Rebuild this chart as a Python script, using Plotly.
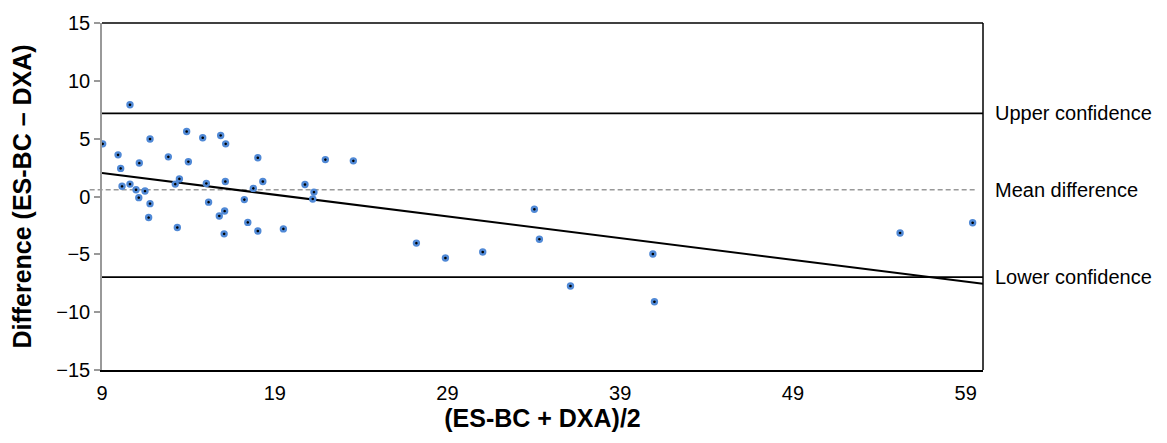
import plotly.graph_objects as go

# Data (Bland-Altman plot)
mean_vals = [9.04, 9.93, 10.08, 11.78, 11.16, 10.16, 10.62, 10.97, 11.13, 11.49,
             11.78, 11.70, 12.84, 13.90, 14.83, 15.87, 16.16, 14.00, 13.48, 13.24,
             15.04, 16.14, 15.17, 13.36, 16.10, 15.79, 16.07, 18.02, 18.31, 17.76,
             17.24, 17.44, 18.02, 19.50, 21.93, 23.55, 20.75, 21.27, 21.20, 10.62,
             27.20, 28.88, 31.04, 34.03, 34.32, 36.12, 40.89, 40.98, 55.20, 59.40]
diff_vals = [4.55, 3.60, 2.43, 4.97, 2.89, 0.88, 1.07, 0.58, -0.10, 0.47,
             -0.62, -1.82, 3.43, 5.62, 5.08, 5.28, 4.55, 3.01, 1.52, 1.07,
             1.13, 1.30, -0.49, -2.68, -1.26, -1.68, -3.23, 3.35, 1.30, 0.70,
             -0.27, -2.24, -2.98, -2.80, 3.19, 3.08, 1.04, 0.38, -0.21, 7.93,
             -4.03, -5.32, -4.80, -1.10, -3.69, -7.74, -4.97, -9.10, -3.15, -2.27]

mean_difference = 0.58
upper_confidence = 7.18
lower_confidence = -6.97
reg_x = [9, 60]
reg_y = [2.03, -7.54]

x_range = [9, 60]
y_range = [-15, 15]
x_ticks = [9, 19, 29, 39, 49, 59]
y_ticks = [-15, -10, -5, 0, 5, 10, 15]

FONT = "Liberation Sans, Arial, sans-serif"

fig = go.Figure()

# regression line
fig.add_trace(go.Scatter(x=reg_x, y=reg_y, mode="lines",
                         line=dict(color="black", width=2), hoverinfo="skip",
                         showlegend=False))

# points
fig.add_trace(go.Scatter(x=mean_vals, y=diff_vals, mode="markers",
                         marker=dict(size=5, color="black",
                                     line=dict(color="#5089d6", width=2.4)),
                         showlegend=False))

# limit lines
for yv, dash, col, w in [(upper_confidence, "solid", "black", 1.8),
                         (lower_confidence, "solid", "black", 1.8),
                         (mean_difference, "5px,3px", "#999999", 1.5)]:
    is_dash = dash != "solid"
    fig.add_shape(type="line", xref="paper", yref="y",
                  x0=(-0.014 if is_dash else 0), x1=(0.993 if is_dash else 1),
                  y0=yv, y1=yv, line=dict(color=col, width=w, dash=dash),
                  layer="below")

# box top and right
fig.add_shape(type="line", xref="paper", yref="paper", x0=0, x1=1, y0=1, y1=1,
              line=dict(color="black", width=1.5))
fig.add_shape(type="line", xref="paper", yref="paper", x0=1, x1=1, y0=0, y1=1,
              line=dict(color="black", width=1.5))

for label, yv in [("Upper confidence", upper_confidence),
                  ("Mean difference", mean_difference),
                  ("Lower confidence", lower_confidence)]:
    fig.add_annotation(x=1, xref="paper", y=yv, yref="y", text=label,
                       showarrow=False, xanchor="left", xshift=10,
                       font=dict(family=FONT, size=20, color="black"))

fig.update_layout(
    width=1167, height=443,
    margin=dict(l=102, r=184, t=19, b=73),
    plot_bgcolor="white", paper_bgcolor="white",
    font=dict(family=FONT, size=20, color="black"),
    xaxis=dict(range=x_range, tickvals=x_ticks, showgrid=False, zeroline=False,
               showline=True, linecolor="black", linewidth=1.5,
               ticks="outside", ticklen=4, tickcolor="rgba(0,0,0,0)",
               title=dict(text="<b>(ES-BC + DXA)/2</b>",
                          font=dict(family=FONT, size=25), standoff=5)),
    yaxis=dict(range=y_range, tickvals=y_ticks, showgrid=False, zeroline=False,
               showline=True, linecolor="#999999", linewidth=1.5,
               ticks="outside", ticklen=6, tickcolor="#999999", tickwidth=1.5,
               title=dict(text="<b>Difference (ES-BC \u2013 DXA)</b>",
                          font=dict(family=FONT, size=25), standoff=18)),
)

fig.write_html("out.html",
               config={"displayModeBar": False},
               post_script="document.body.style.margin='0';")
